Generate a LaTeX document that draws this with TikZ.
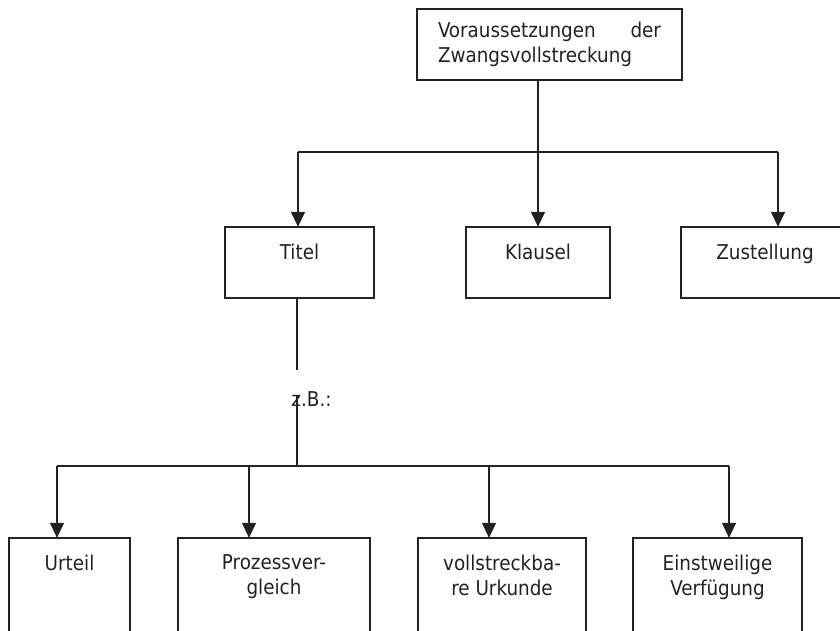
\documentclass[tikz,border=0pt]{standalone}
\usepackage{fontspec}
\setmainfont{DejaVu Sans Condensed}
\usetikzlibrary{arrows.meta}
\definecolor{ink}{HTML}{222222}
\tikzset{
  box/.style={draw=ink, line width=1.3pt, rectangle, inner sep=0pt},
  lab/.style={anchor=north, yshift=-17pt, inner sep=0pt, text=ink, align=center, font=\fontsize{20.4}{25}\selectfont},
  conn/.style={draw=ink, line width=1.3pt},
  arr/.style={conn, -{Triangle[width=14pt,length=15pt]}, shorten >=-0.5pt}
}
\begin{document}
\begin{tikzpicture}[x=1pt,y=-1pt]
\useasboundingbox (0,0) rectangle (840,631);
\clip (0,0) rectangle (840,631);
% top box
\node[box, text=ink, text width=223pt, inner xsep=21pt, minimum height=71pt, align=left,
      font=\fontsize{20.4}{25}\selectfont] (top) at (549.5,44.5)
  {\hbox to 223pt{Voraussetzungen\hfill der}\\Zwangsvollstreckung};
% middle row
\node[box, minimum width=149pt, minimum height=71pt, label={[lab]north:Titel}] (titel) at (299.5,262.5) {};
\node[box, minimum width=144pt, minimum height=71pt, label={[lab]north:Klausel}] (klausel) at (538,262.5) {};
\node[box, minimum width=168pt, minimum height=71pt, label={[lab]north:Zustellung}] (zust) at (765,262.5) {};
% bottom row
\node[box, minimum width=121pt, minimum height=162pt, label={[lab]north:Urteil}] (urteil) at (69.5,619) {};
\node[box, minimum width=192pt, minimum height=162pt, label={[lab]north:Prozessver-\\gleich}] (vergleich) at (274,619) {};
\node[box, minimum width=168pt, minimum height=162pt, label={[lab]north:vollstreckba-\\re Urkunde}] (urkunde) at (502,619) {};
\node[box, minimum width=169pt, minimum height=162pt, label={[lab]north:Einstweilige\\Verfügung}] (verfuegung) at (717.5,619) {};
% z.B. label
\node[inner sep=0pt, text=ink, font=\fontsize{20.4}{25}\selectfont] (zb) at (311.5,399) {z.B.:};
% upper connectors
\coordinate (ul) at (298,152);
\coordinate (ur) at (778,152);
\draw[conn] (ul) -- (ur);
\draw[arr] (top.south -| klausel.north) -- (klausel.north);
\draw[arr] (ul) -- (ul |- titel.north);
\draw[arr] (ur) -- (ur |- zust.north);
% lower connectors
\coordinate (c1) at (297,370);
\coordinate (c2) at (297,395);
\coordinate (hub) at (297,466);
\coordinate (ll) at (57,466);
\coordinate (lr) at (729,466);
\coordinate (a2) at (249,466);
\coordinate (a3) at (489,466);
\draw[conn] (titel.south -| c1) -- (c1);
\draw[conn] (c2) -- (hub);
\draw[conn] (ll) -- (lr);
\draw[arr] (ll) -- (ll |- urteil.north);
\draw[arr] (a2) -- (a2 |- vergleich.north);
\draw[arr] (a3) -- (a3 |- urkunde.north);
\draw[arr] (lr) -- (lr |- verfuegung.north);
\end{tikzpicture}
\end{document}
